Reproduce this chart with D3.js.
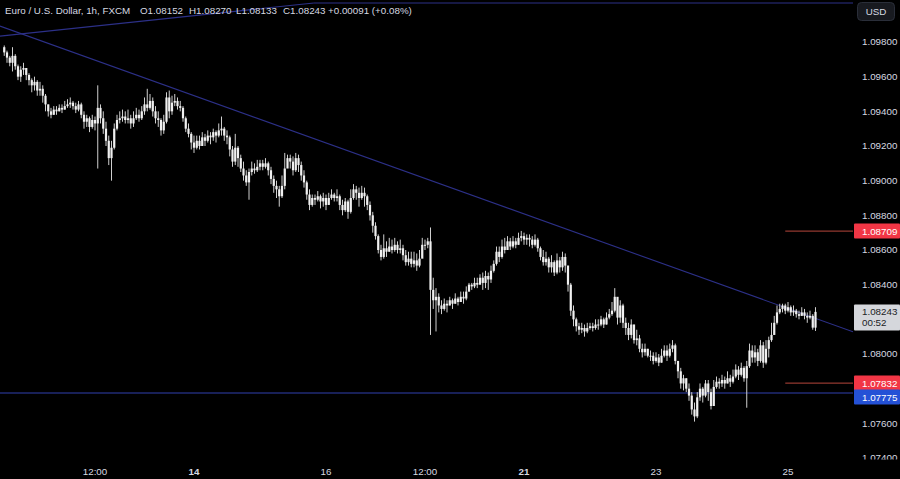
<!DOCTYPE html>
<html><head><meta charset="utf-8">
<script src="https://cdn.jsdelivr.net/npm/d3@7"></script>
<style>
html,body{margin:0;padding:0;background:#000;}
svg{display:block;}
text{font-family:"Liberation Sans",Arial,sans-serif;}
</style></head><body>
<svg id="chart" width="900" height="479"></svg>
<script>
// ---------- DATA (EUR/USD 1h, FXCM) ----------
const firstOpen = 1.0977;
const closes = [
1.0974,1.0971,1.0968,1.0972,1.0966,1.0960,1.0964,1.0965,
1.0961,1.0958,1.0955,1.0957,1.0952,1.0953,1.0949,1.0944,
1.0940,1.0938,1.0941,1.0940,1.0942,1.0941,1.0943,1.0944,
1.0945,1.0943,1.0941,1.0944,1.0938,1.0934,1.0936,1.0931,
1.0935,1.0933,1.0942,1.0936,1.0930,1.0923,1.0913,1.0919,
1.0930,1.0935,1.0936,1.0937,1.0935,1.0936,1.0933,1.0936,
1.0938,1.0936,1.0940,1.0944,1.0942,1.0946,1.0940,1.0936,
1.0935,1.0929,1.0934,1.0948,1.0940,1.0945,1.0946,1.0943,
1.0942,1.0936,1.0930,1.0927,1.0922,1.0919,1.0923,1.0920,
1.0925,1.0923,1.0926,1.0925,1.0928,1.0926,1.0929,1.0930,
1.0926,1.0925,1.0918,1.0911,1.0919,1.0913,1.0907,1.0903,
1.0899,1.0905,1.0907,1.0906,1.0908,1.0910,1.0908,1.0910,
1.0906,1.0901,1.0897,1.0895,1.0891,1.0897,1.0907,1.0913,
1.0911,1.0906,1.0913,1.0909,1.0903,1.0899,1.0892,1.0886,
1.0890,1.0889,1.0891,1.0888,1.0890,1.0886,1.0890,1.0892,
1.0890,1.0891,1.0886,1.0883,1.0888,1.0882,1.0890,1.0895,
1.0893,1.0890,1.0893,1.0891,1.0886,1.0880,1.0874,1.0868,
1.0860,1.0856,1.0861,1.0859,1.0862,1.0860,1.0863,1.0860,
1.0861,1.0857,1.0853,1.0855,1.0852,1.0854,1.0851,1.0855,
1.0863,1.0863,1.0865,1.0837,1.0831,1.0833,1.0828,1.0826,
1.0829,1.0828,1.0831,1.0829,1.0832,1.0830,1.0833,1.0832,
1.0836,1.0840,1.0839,1.0841,1.0840,1.0844,1.0841,1.0845,
1.0843,1.0848,1.0852,1.0859,1.0856,1.0862,1.0860,1.0865,
1.0862,1.0865,1.0863,1.0867,1.0868,1.0866,1.0867,1.0866,
1.0863,1.0866,1.0861,1.0856,1.0853,1.0855,1.0850,1.0853,
1.0847,1.0854,1.0850,1.0856,1.0851,1.0840,1.0825,1.0820,
1.0816,1.0814,1.0815,1.0813,1.0815,1.0816,1.0815,1.0817,
1.0817,1.0820,1.0817,1.0821,1.0823,1.0825,1.0833,1.0821,
1.0828,1.0818,1.0815,1.0811,1.0817,1.0808,1.0809,1.0803,
1.0801,1.0803,1.0799,1.0799,1.0796,1.0798,1.0795,1.0799,
1.0802,1.0799,1.0803,1.0805,1.0796,1.0790,1.0783,1.0786,
1.0780,1.0776,1.0768,1.0764,1.0775,1.0780,1.0776,1.0783,
1.0778,1.0770,1.0781,1.0784,1.0783,1.0785,1.0783,1.0786,
1.0784,1.0787,1.0791,1.0788,1.0792,1.0786,1.0793,1.0802,
1.0798,1.0801,1.0796,1.0805,1.0795,1.0803,1.0808,1.0811,
1.0818,1.0824,1.0826,1.0828,1.0825,1.0827,1.0824,1.0825,
1.0823,1.0822,1.0824,1.0822,1.0821,1.0822,1.08152,1.08243
];
const highs = [
1.0978,1.0975,1.0972,1.0977,1.0973,1.0967,1.0966,1.0968,
1.0965,1.0962,1.0959,1.0960,1.0958,1.0957,1.0955,1.0950,
1.0944,1.0942,1.0943,1.0943,1.0944,1.0944,1.0946,1.0947,
1.0948,1.0946,1.0945,1.0946,1.0945,1.0940,1.0938,1.0937,
1.0938,1.0937,1.0955,1.0944,1.0940,1.0934,1.0926,1.0923,
1.0933,1.0938,1.0940,1.0941,1.0940,1.0941,1.0938,1.0940,
1.0942,1.0941,1.0943,1.0948,1.0953,1.0950,1.0948,1.0943,
1.0940,1.0936,1.0938,1.0951,1.0952,1.0949,1.0950,1.0948,
1.0946,1.0943,1.0937,1.0933,1.0928,1.0926,1.0926,1.0926,
1.0928,1.0927,1.0929,1.0928,1.0930,1.0929,1.0933,1.0937,
1.0931,1.0929,1.0926,1.0920,1.0927,1.0920,1.0915,1.0911,
1.0906,1.0907,1.0911,1.0910,1.0912,1.0912,1.0912,1.0913,
1.0911,1.0908,1.0903,1.0900,1.0897,1.0903,1.0916,1.0915,
1.0915,1.0914,1.0916,1.0915,1.0911,1.0906,1.0900,1.0895,
1.0892,1.0892,1.0894,1.0892,1.0893,1.0892,1.0893,1.0895,
1.0893,1.0895,1.0892,1.0889,1.0890,1.0889,1.0895,1.0898,
1.0897,1.0896,1.0897,1.0896,1.0892,1.0888,1.0882,1.0876,
1.0869,1.0863,1.0869,1.0865,1.0867,1.0866,1.0867,1.0865,
1.0866,1.0863,1.0860,1.0859,1.0859,1.0859,1.0858,1.0860,
1.0867,1.0866,1.0867,1.0873,1.0844,1.0838,1.0835,1.0831,
1.0832,1.0831,1.0833,1.0832,1.0835,1.0833,1.0836,1.0836,
1.0839,1.0841,1.0841,1.0844,1.0844,1.0846,1.0847,1.0848,
1.0847,1.0851,1.0854,1.0862,1.0862,1.0866,1.0867,1.0868,
1.0867,1.0868,1.0867,1.0870,1.0871,1.0870,1.0869,1.0869,
1.0868,1.0869,1.0867,1.0862,1.0860,1.0859,1.0856,1.0857,
1.0854,1.0858,1.0856,1.0859,1.0858,1.0851,1.0841,1.0828,
1.0821,1.0818,1.0818,1.0817,1.0818,1.0818,1.0818,1.0820,
1.0820,1.0822,1.0821,1.0824,1.0826,1.0830,1.0838,1.0831,
1.0831,1.0829,1.0821,1.0818,1.0820,1.0817,1.0814,1.0811,
1.0806,1.0806,1.0803,1.0802,1.0801,1.0801,1.0800,1.0803,
1.0805,1.0805,1.0806,1.0808,1.0806,1.0796,1.0792,1.0788,
1.0786,1.0783,1.0778,1.0772,1.0778,1.0783,1.0781,1.0785,
1.0785,1.0780,1.0785,1.0787,1.0786,1.0788,1.0787,1.0790,
1.0788,1.0791,1.0794,1.0793,1.0795,1.0793,1.0796,1.0806,
1.0805,1.0805,1.0803,1.0808,1.0807,1.0808,1.0810,1.0818,
1.0822,1.0828,1.0829,1.0829,1.0829,1.0830,1.0828,1.0828,
1.0826,1.0825,1.0827,1.0826,1.0824,1.0825,1.0823,1.08270
];
const lows = [
1.0972,1.0968,1.0966,1.0963,1.0964,1.0958,1.0957,1.0961,
1.0958,1.0955,1.0951,1.0952,1.0949,1.0949,1.0945,1.0940,
1.0937,1.0936,1.0938,1.0938,1.0940,1.0939,1.0941,1.0942,
1.0942,1.0941,1.0939,1.0940,1.0936,1.0930,1.0931,1.0928,
1.0930,1.0929,1.0907,1.0933,1.0927,1.0920,1.0909,1.0900,
1.0918,1.0929,1.0933,1.0934,1.0933,1.0933,1.0930,1.0931,
1.0935,1.0934,1.0935,1.0938,1.0940,1.0941,1.0937,1.0933,
1.0931,1.0926,1.0927,1.0933,1.0936,1.0938,1.0943,1.0941,
1.0940,1.0934,1.0928,1.0925,1.0918,1.0916,1.0918,1.0918,
1.0920,1.0920,1.0922,1.0921,1.0923,1.0922,1.0925,1.0926,
1.0923,1.0921,1.0914,1.0908,1.0909,1.0908,1.0905,1.0900,
1.0897,1.0889,1.0903,1.0904,1.0905,1.0906,1.0906,1.0907,
1.0903,1.0898,1.0893,1.0890,1.0885,1.0890,1.0895,1.0908,
1.0907,1.0903,1.0905,1.0905,1.0900,1.0896,1.0889,1.0883,
1.0885,1.0886,1.0888,1.0884,1.0885,1.0883,1.0886,1.0889,
1.0888,1.0888,1.0883,1.0880,1.0882,1.0878,1.0881,1.0889,
1.0889,1.0885,1.0889,1.0885,1.0883,1.0877,1.0870,1.0866,
1.0858,1.0854,1.0855,1.0856,1.0859,1.0858,1.0859,1.0858,
1.0858,1.0854,1.0851,1.0851,1.0850,1.0850,1.0848,1.0850,
1.0856,1.0860,1.0861,1.0811,1.0826,1.0813,1.0824,1.0823,
1.0825,1.0824,1.0828,1.0826,1.0829,1.0828,1.0830,1.0829,
1.0831,1.0836,1.0837,1.0838,1.0838,1.0840,1.0837,1.0838,
1.0837,1.0841,1.0847,1.0851,1.0853,1.0855,1.0858,1.0860,
1.0860,1.0861,1.0861,1.0863,1.0865,1.0863,1.0863,1.0862,
1.0861,1.0862,1.0859,1.0854,1.0851,1.0851,1.0847,1.0847,
1.0845,1.0846,1.0847,1.0848,1.0847,1.0836,1.0822,1.0816,
1.0813,1.0811,1.0812,1.0810,1.0812,1.0814,1.0813,1.0814,
1.0814,1.0816,1.0815,1.0817,1.0820,1.0822,1.0824,1.0817,
1.0818,1.0815,1.0811,1.0808,1.0809,1.0806,1.0805,1.0801,
1.0798,1.0799,1.0798,1.0796,1.0794,1.0795,1.0793,1.0795,
1.0798,1.0796,1.0798,1.0801,1.0794,1.0786,1.0780,1.0779,
1.0778,1.0773,1.0765,1.0761,1.0763,1.0773,1.0772,1.0775,
1.0773,1.0768,1.0770,1.0780,1.0780,1.0781,1.0780,1.0783,
1.0781,1.0783,1.0786,1.0785,1.0787,1.0784,1.0769,1.0792,
1.0795,1.0795,1.0793,1.0795,1.0792,1.0794,1.0798,1.0807,
1.0811,1.0817,1.0823,1.0824,1.0823,1.0824,1.0822,1.0822,
1.0821,1.0820,1.0822,1.0820,1.0818,1.0820,1.0814,1.08133
];
const timeTickBars   = [33, 69, 117, 153, 189, 237, 285];
const timeTickLabels = ["12:00", "14", "16", "12:00", "21", "23", "25"];
const boldTimeTicks  = ["14", "21"];
const priceTicks = [1.074,1.076,1.078,1.080,1.082,1.084,1.086,1.088,1.090,1.092,1.094,1.096,1.098];

const downTrendBars   = [0, 300];
const downTrendPrices = [1.09883, 1.08177];
const upTrendBars     = [-1.5, 112.6];
const upTrendPrices   = [1.09834, 1.10025];
const topLevel        = 1.10025;
const supportLevel    = 1.07775;
const redLevels       = [1.08709, 1.07832];
const redLevelStartBar = 284;
const lastPrice = 1.08243;
const countdown = "00:52";
const headerParts = ["Euro / U.S. Dollar, 1h, FXCM", "O1.08152", "H1.08270", "L1.08133", "C1.08243", "+0.00091 (+0.08%)"];
const currency = "USD";

// ---------- LAYOUT ----------
const W = 900, H = 479;
const plotRight = 853, plotBottom = 461;
const svg = d3.select("#chart");
svg.append("rect").attr("width", W).attr("height", H).attr("fill", "#000");

const x = d3.scaleLinear().domain([0, 285]).range([4.25, 788]);
const y = d3.scaleLinear().domain([1.074, 1.098]).range([458, 42]);

const defs = svg.append("defs");
defs.append("clipPath").attr("id", "plotClip")
  .append("rect").attr("x", 0).attr("y", 0).attr("width", plotRight).attr("height", plotBottom);
defs.append("clipPath").attr("id", "axisClip")
  .append("rect").attr("x", plotRight).attr("y", 0).attr("width", W - plotRight).attr("height", 459.5);

const plot = svg.append("g").attr("clip-path", "url(#plotClip)");

// lines
const bLeft = x.invert(0), bRight = x.invert(plotRight);
function lineThrough(bars, prices, b0, b1) {
  const s = (prices[1] - prices[0]) / (bars[1] - bars[0]);
  const p = b => prices[0] + s * (b - bars[0]);
  return [[b0, p(b0)], [b1, p(b1)]];
}
const lineGen = d3.line().x(d => x(d[0])).y(d => y(d[1]));

plot.append("path").datum(lineThrough(downTrendBars, downTrendPrices, bLeft, bRight))
  .attr("d", lineGen).attr("fill", "none").attr("stroke", "#2c3088").attr("stroke-width", 1.1);
plot.append("path").datum(lineThrough(upTrendBars, upTrendPrices, bLeft, upTrendBars[1]))
  .attr("d", lineGen).attr("fill", "none").attr("stroke", "#2c3088").attr("stroke-width", 1.1);
plot.append("path").datum([[upTrendBars[1], topLevel], [bRight, topLevel]])
  .attr("d", lineGen).attr("fill", "none").attr("stroke", "#2c3088").attr("stroke-width", 1.1);
plot.append("path").datum([[bLeft, supportLevel], [bRight, supportLevel]])
  .attr("d", lineGen).attr("fill", "none").attr("stroke", "#3040b0").attr("stroke-width", 1);
redLevels.forEach(lv => {
  plot.append("path").datum([[redLevelStartBar, lv], [bRight, lv]])
    .attr("d", lineGen).attr("fill", "none").attr("stroke", "#b8473c").attr("stroke-width", 1);
});

// candles
const candles = closes.map((c, i) => ({
  i, o: i === 0 ? firstOpen : closes[i - 1], c, h: highs[i], l: lows[i]
}));
plot.append("g").selectAll("line").data(candles).join("line")
  .attr("x1", d => x(d.i)).attr("x2", d => x(d.i))
  .attr("y1", d => y(d.h)).attr("y2", d => y(d.l))
  .attr("stroke", "#cfcfcf").attr("stroke-width", 1);
plot.append("g").selectAll("rect").data(candles).join("rect")
  .attr("x", d => x(d.i) - 1.1).attr("width", 2.2)
  .attr("y", d => y(Math.max(d.o, d.c)))
  .attr("height", d => Math.max(1, Math.abs(y(d.o) - y(d.c))))
  .attr("fill", "#f0f0f0");

// price axis
const axisG = svg.append("g").attr("clip-path", "url(#axisClip)");
const fmt = d3.format(".5f");
const labelYs = [y(lastPrice), ...redLevels.map(y), y(supportLevel)];
axisG.selectAll("text.tick").data(priceTicks.filter(p =>
    labelYs.every(ly => Math.abs(ly - y(p)) > 11)))
  .join("text").attr("class", "tick")
  .attr("x", 862).attr("y", d => y(d)).attr("dy", "0.35em")
  .attr("fill", "#d6d9e0").attr("font-size", 9.8).text(d => fmt(d));

function priceBox(p, fill, textFill, cy) {
  axisG.append("rect").attr("x", 854).attr("y", cy - 7.5).attr("width", 46).attr("height", 15)
    .attr("fill", fill).attr("rx", 1);
  axisG.append("text").attr("x", 862).attr("y", cy).attr("dy", "0.35em")
    .attr("fill", textFill).attr("font-size", 9.8).text(fmt(p));
}
priceBox(redLevels[0], "#f23645", "#ffffff", y(redLevels[0]));
priceBox(redLevels[1], "#f23645", "#ffffff", y(redLevels[1]));
priceBox(supportLevel, "#2451d6", "#ffffff", y(redLevels[1]) + 14);

// last price box
const ly = y(lastPrice);
axisG.append("rect").attr("x", 854).attr("y", ly - 7.5).attr("width", 46).attr("height", 26)
  .attr("fill", "#d5d7dc").attr("rx", 1);
axisG.append("text").attr("x", 862).attr("y", ly).attr("dy", "0.35em")
  .attr("fill", "#1a1d24").attr("font-size", 9.8).text(fmt(lastPrice));
axisG.append("text").attr("x", 862).attr("y", ly + 11).attr("dy", "0.35em")
  .attr("fill", "#1a1d24").attr("font-size", 9.8).text(countdown);

// USD button
svg.append("rect").attr("x", 857.5).attr("y", 2.5).attr("width", 37).attr("height", 18).attr("rx", 4)
  .attr("fill", "#181a20").attr("stroke", "#2a2e39");
svg.append("text").attr("x", 876).attr("y", 11.5).attr("dy", "0.35em").attr("text-anchor", "middle")
  .attr("fill", "#d6d9e0").attr("font-size", 9.8).text(currency);

// time axis
svg.append("g").selectAll("text").data(timeTickBars).join("text")
  .attr("x", d => x(d)).attr("y", 472).attr("dy", "0.35em").attr("text-anchor", "middle")
  .attr("fill", "#d6d9e0").attr("font-size", 9.8)
  .attr("font-weight", (d, i) => boldTimeTicks.includes(timeTickLabels[i]) ? 700 : 400)
  .text((d, i) => timeTickLabels[i]);

// header legend
const headerX = [5, 140, 189, 236, 283, 328];
svg.append("g").selectAll("text").data(headerParts).join("text")
  .attr("x", (d, i) => headerX[i]).attr("y", 11).attr("dy", "0.35em")
  .attr("fill", "#d6d9e0").attr("font-size", 9.8).text(d => d);
</script>
</body></html>
